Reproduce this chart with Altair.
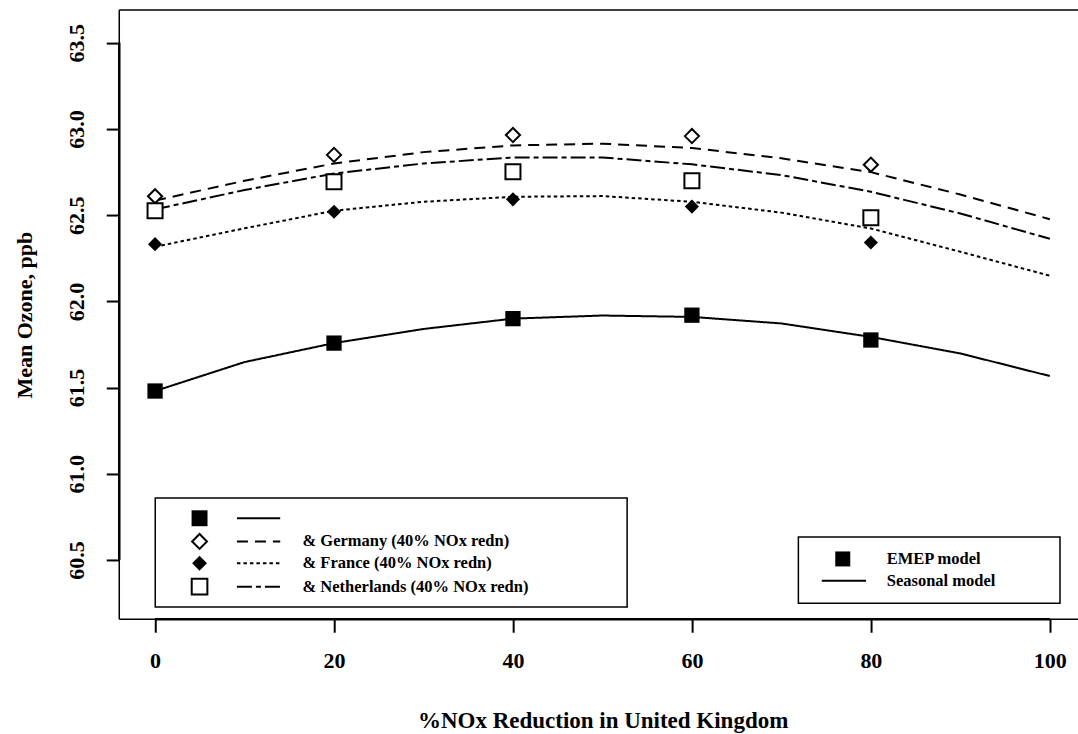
import altair as alt
import pandas as pd

# EMEP model runs: % NOx reduction in the UK against mean ozone (ppb)
emep_x = [0, 20, 40, 60, 80]
emep_uk = [61.48, 61.758, 61.90, 61.92, 61.776]
emep_germany = [62.61, 62.85, 62.965, 62.959, 62.793]
emep_france = [62.332, 62.52, 62.592, 62.55, 62.342]
emep_netherlands = [62.526, 62.694, 62.752, 62.70, 62.485]

# Seasonal model curves, evaluated every 10 %
seasonal_x = [0, 10, 20, 30, 40, 50, 60, 70, 80, 90, 100]
seasonal_uk = [61.48, 61.648, 61.758, 61.84, 61.90, 61.918, 61.91, 61.872, 61.794, 61.698, 61.567]
seasonal_germany = [62.585, 62.70, 62.80, 62.866, 62.905, 62.915, 62.89, 62.83, 62.75, 62.62, 62.477]
seasonal_france = [62.317, 62.424, 62.526, 62.578, 62.607, 62.611, 62.578, 62.515, 62.423, 62.288, 62.149]
seasonal_netherlands = [62.534, 62.646, 62.742, 62.80, 62.835, 62.835, 62.795, 62.733, 62.636, 62.51, 62.363]

x_ticks = [0, 20, 40, 60, 80, 100]
y_ticks = [60.5, 61.0, 61.5, 62.0, 62.5, 63.0, 63.5]

series_labels = ["", "& Germany (40% NOx redn)", "& France (40% NOx redn)", "& Netherlands (40% NOx redn)"]
key_labels = ["EMEP model", "Seasonal model"]

FONT = "Liberation Serif"
W, H = 959, 609.3

xscale = alt.Scale(domain=[-4, 103.15], nice=False, zero=False)
yscale = alt.Scale(domain=[60.156, 63.69], nice=False, zero=False)

xaxis = alt.Axis(values=x_ticks, format="d", domain=False, grid=False,
                 tickSize=13, tickWidth=2, tickColor="black",
                 labelFont=FONT, labelFontSize=22, labelFontWeight="bold", labelColor="black",
                 labelBaseline="alphabetic", labelPadding=35, labelFlush=False, labelOverlap=False,
                 titleFont=FONT, titleFontSize=23, titleFontWeight="bold", titleColor="black",
                 titleBaseline="alphabetic", titleY=108, titleX=W / 2 + 4)
yaxis = alt.Axis(values=y_ticks, format=".1f", domain=False, grid=False,
                 tickSize=13, tickWidth=2, tickColor="black",
                 labelFont=FONT, labelFontSize=22, labelFontWeight="bold", labelColor="black",
                 labelAngle=270, labelAlign="center", labelBaseline="alphabetic", labelPadding=23,
                 labelFlush=False, labelOverlap=False,
                 titleFont=FONT, titleFontSize=22, titleFontWeight="bold", titleColor="black",
                 titleAngle=270, titleAlign="center", titleBaseline="middle",
                 titleX=-95, titleY=H / 2)

X = alt.X("x:Q", scale=xscale, axis=xaxis, title="%NOx Reduction in United Kingdom")
Y = alt.Y("y:Q", scale=yscale, axis=yaxis, title="Mean Ozone, ppb")

one = pd.DataFrame({"k": [0]})

# curve styles: (values, dash)
curves = [
    (seasonal_uk, [1, 0]),
    (seasonal_germany, [11, 7]),
    (seasonal_france, [3.5, 3]),
    (seasonal_netherlands, [15, 4, 5, 4]),
]
# point styles: (values, shape, filled, size)
points = [
    (emep_uk, "square", True, 234),
    (emep_germany, "diamond", False, 200),
    (emep_france, "diamond", True, 200),
    (emep_netherlands, "square", False, 225),
]

layers = []

# plot frame
layers.append(alt.Chart(one).mark_rule(color="black", strokeWidth=1.5).encode(
    x=alt.value(0), x2=alt.value(W), y=alt.value(0)))
layers.append(alt.Chart(one).mark_rule(color="black", strokeWidth=1.5).encode(
    x=alt.value(0), y=alt.value(0), y2=alt.value(H)))
layers.append(alt.Chart(one).mark_rule(color="black", strokeWidth=1.5).encode(
    x=alt.value(0), x2=alt.value(W), y=alt.value(H)))

# axis lines spanning the tick range
layers.append(alt.Chart(pd.DataFrame({"x": [x_ticks[0]], "x2": [x_ticks[-1]]})).mark_rule(
    color="black", strokeWidth=2.5).encode(x=X, x2="x2:Q", y=alt.value(H)))
layers.append(alt.Chart(pd.DataFrame({"y": [y_ticks[0]], "y2": [y_ticks[-1]]})).mark_rule(
    color="black", strokeWidth=2.5).encode(y=Y, y2="y2:Q", x=alt.value(0)))

for vals, dash in curves:
    df = pd.DataFrame({"x": seasonal_x, "y": vals})
    layers.append(alt.Chart(df).mark_line(color="black", strokeWidth=2, strokeDash=dash,
                                          strokeCap="butt").encode(x=X, y=Y))

for vals, shape, filled, size in points:
    df = pd.DataFrame({"x": emep_x, "y": vals})
    layers.append(alt.Chart(df).mark_point(
        shape=shape, filled=filled, size=size, opacity=1,
        color="black", fill="black" if filled else "white", stroke="black",
        strokeWidth=0 if filled else 2).encode(x=X, y=Y))

# series legend
layers.append(alt.Chart(one).mark_rect(fill="white", stroke="black", strokeWidth=1.5).encode(
    x=alt.value(36), x2=alt.value(508), y=alt.value(488), y2=alt.value(597)))
row_y = [508.3, 531.5, 553.3, 576.7]
for i, ((_, dash), (_, shape, filled, size), label) in enumerate(zip(curves, points, series_labels)):
    layers.append(alt.Chart(one).mark_point(
        shape=shape, filled=filled, size=size + 20, opacity=1,
        color="black", fill="black" if filled else "white", stroke="black",
        strokeWidth=0 if filled else 2).encode(x=alt.value(80.3), y=alt.value(row_y[i])))
    layers.append(alt.Chart(one).mark_rule(color="black", strokeWidth=2, strokeDash=dash,
                                           strokeCap="butt").encode(
        x=alt.value(117.7), x2=alt.value(161), y=alt.value(row_y[i])))
    if label:
        layers.append(alt.Chart(one).mark_text(
            align="left", baseline="middle", font=FONT, fontSize=16.5, fontWeight="bold",
            color="black").encode(x=alt.value(183.3), y=alt.value(row_y[i]), text=alt.value(label)))

# model key
layers.append(alt.Chart(one).mark_rect(fill="white", stroke="black", strokeWidth=1.5).encode(
    x=alt.value(679.3), x2=alt.value(941), y=alt.value(527), y2=alt.value(593.3)))
layers.append(alt.Chart(one).mark_point(shape="square", filled=True, size=225, opacity=1,
                                        color="black").encode(x=alt.value(723.7), y=alt.value(549)))
layers.append(alt.Chart(one).mark_rule(color="black", strokeWidth=2).encode(
    x=alt.value(702.7), x2=alt.value(747), y=alt.value(570.7)))
for ty, label in zip([549, 571], key_labels):
    layers.append(alt.Chart(one).mark_text(
        align="left", baseline="middle", font=FONT, fontSize=16.5, fontWeight="bold",
        color="black").encode(x=alt.value(767.7), y=alt.value(ty), text=alt.value(label)))

chart = alt.layer(*layers).properties(
    width=W, height=H, autosize="none",
    padding={"left": 119.3, "top": 10, "right": 0, "bottom": 734 - 10 - H},
    background="white",
).configure_view(stroke=None)

chart.save("out.html", embed_options={"renderer": "svg", "actions": False})
